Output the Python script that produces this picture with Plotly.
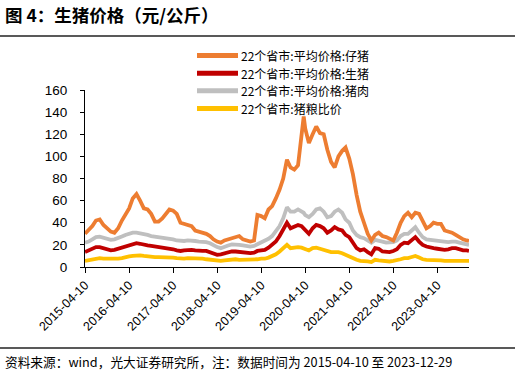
import plotly.graph_objects as go

# monthly dates (10th of each month) from 2015-04 to 2023-12, plus last day, plus one spike point
DATES = [f"{2015 + (3 + i) // 12}-{(3 + i) % 12 + 1:02d}-10" for i in range(105)]
DATES.insert(60, "2020-03-28")
DATES.append("2023-12-29")

PIGLET = [30, 33, 37, 42, 43, 38, 35, 32, 31, 35, 42, 48,
          53, 62, 66, 60, 53, 52, 48, 41, 41, 44, 49, 52,
          51, 48, 40, 39, 38, 37, 33, 32, 31, 30, 28, 25,
          23, 22, 24, 25, 26, 27, 28, 25, 24, 23, 24, 47,
          46, 44, 52, 55, 62, 70, 80, 97, 90, 88, 92, 118,
          136,
          125, 112, 120, 127, 121, 120, 106, 95, 90, 100, 105, 108,
          98, 84, 65, 50, 40, 30, 24, 29, 31, 28, 27, 26,
          24, 31, 40, 46, 49, 45, 49, 48, 42, 35, 37, 40,
          39, 39, 33, 32, 31, 29, 27, 25, 24,
          23.5]
HOG = [13.5, 15, 16.5, 18, 18, 17, 16, 15, 15.5, 16.5, 18, 19,
       20, 21, 21.5, 21, 20, 19.5, 19, 18.5, 18, 17.5, 17.5, 17,
       16, 15, 14.5, 15, 15.5, 15.5, 15, 14.5, 14.5, 14.5, 13.5, 12,
       11, 11.5, 12.5, 13.5, 14, 14, 13.5, 13, 12.5, 12.5, 13, 14.5,
       15, 15.5, 17.5, 20, 23, 28, 34, 40, 35, 37, 38, 37,
       35,
       33, 30, 35, 38, 37, 35, 31, 33, 36, 34, 33, 29,
       27, 22, 17, 15, 16, 13.5, 11.5, 17, 16.5, 14, 13.5, 13.5,
       14.5, 16, 20, 22, 21.5, 24, 27, 23, 20, 18.5, 17.5, 17,
       16.5, 16, 15.5, 16, 17, 17, 16, 15, 15,
       14.5]
PORK = [22, 23, 25, 27, 27.5, 26.5, 25.5, 24.5, 25, 26, 27.5, 29,
        30, 31, 31, 30.5, 29.5, 29, 28, 27.5, 27, 26.5, 26, 26,
        25, 24, 23.5, 23.5, 24, 24, 23.5, 23, 23, 22.5, 21.5, 19.5,
        18, 17, 18.5, 19.5, 20.5, 20.5, 20, 19.5, 19, 18.5, 19, 20.5,
        22, 23, 25.5, 28, 32, 37, 44, 54, 50, 50, 52, 50,
        49,
        47, 45, 48, 52, 53, 50, 45, 46, 50, 52, 49, 43,
        40, 33, 29, 27, 26, 24, 22, 24.5, 24, 23, 22, 22,
        22.5, 24, 28, 30, 30, 33, 36, 31, 27, 25, 24.5, 24,
        24, 23.5, 23, 22.5, 23, 23, 22, 21, 20.5,
        20]
RATIO = [5.5, 6, 6.5, 7.5, 8, 7.5, 7.5, 7, 7, 7.5, 8, 9,
         9.5, 10, 10.5, 10.5, 10, 9.5, 9.5, 9, 9, 9, 9, 9,
         8.5, 8, 7.5, 7.5, 8, 8, 7.5, 7.5, 7.5, 7, 6.5, 6,
         5.5, 5.5, 6, 6.5, 7, 7, 6.5, 6.5, 6.5, 6.5, 6.5, 7,
         7.5, 7.5, 8.5, 10, 11.5, 14, 17, 20, 17, 17.5, 18, 17.5,
         17,
         16.5, 15, 17, 17.5, 16.5, 15.5, 14, 13.5, 13.5, 13.5, 12.5, 11,
         10, 8, 6.5, 5.5, 5.5, 5, 4.5, 6.5, 6, 5.5, 5.5, 5,
         5.5, 6, 7, 8, 8, 9, 10, 8.5, 7, 6.5, 6.5, 6,
         6, 6, 5.5, 5.5, 6, 6, 5.5, 5.5, 5.5,
         5.5]

NAMES = ["22个省市:平均价格:仔猪", "22个省市:平均价格:生猪",
         "22个省市:平均价格:猪肉", "22个省市:猪粮比价"]
COLORS = ["#ED7D31", "#C00000", "#BFBFBF", "#FFC000"]
TICK_DATES = ["2015-04-10", "2016-04-10", "2017-04-10", "2018-04-10", "2019-04-10",
              "2020-04-10", "2021-04-10", "2022-04-10", "2023-04-10"]
Y_TICKS = [0, 20, 40, 60, 80, 100, 120, 140, 160]

TITLE = "图 4：生猪价格（元/公斤）"
SOURCE = "资料来源：wind，光大证券研究所，注：数据时间为 2015-04-10 至 2023-12-29"

CJK = "Noto Sans CJK SC"
LAT = "Liberation Sans, Arial"

# plot area in pixels
L, R, T, B = 85, 469, 90, 267
PW, PH = R - L, B - T


def px(x):
    return (x - L) / PW


def py(y):
    return (B - y) / PH


fig = go.Figure()
series = [PIGLET, HOG, PORK, RATIO]
for name, vals, col in reversed(list(zip(NAMES, series, COLORS))):
    fig.add_trace(go.Scatter(x=DATES, y=vals, name=name, mode="lines",
                             line=dict(color=col, width=3.8), showlegend=False))

fig.update_layout(
    width=515, height=381,
    margin=dict(l=L, r=515 - R, t=T, b=381 - B, autoexpand=False),
    paper_bgcolor="white", plot_bgcolor="white",
    showlegend=False,
    font=dict(family=LAT, size=13, color="#000000"),
)
fig.update_xaxes(
    type="date", range=["2015-04-10", "2023-12-29"],
    tickvals=TICK_DATES, ticktext=TICK_DATES, tickangle=-45,
    ticks="outside", ticklen=5, tickcolor="#000000", tickwidth=1,
    showline=True, linecolor="#000000", linewidth=1,
    showgrid=False, zeroline=False,
    tickfont=dict(family=LAT, size=12.5, color="#000000"),
)
fig.update_yaxes(
    range=[0, 160], tickvals=Y_TICKS,
    ticks="outside", ticklen=4, tickcolor="#000000", tickwidth=1,
    showline=True, linecolor="#000000", linewidth=1,
    showgrid=False, zeroline=False, ticklabelstandoff=10,
    tickfont=dict(family=LAT, size=13.5, color="#000000"),
)

# legend (drawn manually): text entries + line samples
LEG_FS = 12
LEG_STEP = 17.6
LEG_CY = 82
for i, (name, col) in enumerate(zip(NAMES, COLORS)):
    yy = LEG_CY + (i - 1.5) * LEG_STEP
    fig.add_shape(type="line", xref="paper", yref="paper",
                  x0=px(197), x1=px(238), y0=py(yy), y1=py(yy),
                  line=dict(color=col, width=5))
    fig.add_annotation(text=name, xref="paper", yref="paper",
                       x=px(240), y=py(yy), xanchor="left", yanchor="middle",
                       showarrow=False, borderpad=0,
                       font=dict(family=CJK, size=LEG_FS, color="#000000"))

fig.add_annotation(text="<b>" + TITLE + "</b>", xref="paper", yref="paper",
                   x=px(3), y=py(14), xanchor="left", yanchor="middle",
                   showarrow=False, font=dict(family=CJK, size=17.5, color="#000000"))
fig.add_annotation(text=SOURCE, xref="paper", yref="paper",
                   x=px(3), y=py(361), xanchor="left", yanchor="middle",
                   showarrow=False, font=dict(family=CJK, size=12.7, color="#000000"))
for yy in [36, 348]:
    fig.add_shape(type="line", xref="paper", yref="paper",
                  x0=px(0), x1=px(515), y0=py(yy), y1=py(yy),
                  line=dict(color="#595959", width=2))

fig.write_html("out.html", config={"displayModeBar": False},
               post_script="document.body.style.margin='0px';")
